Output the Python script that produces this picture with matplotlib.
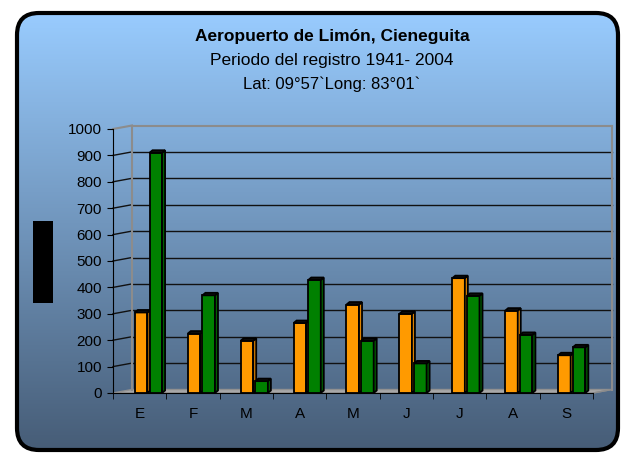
import numpy as np
import matplotlib.pyplot as plt
from matplotlib.patches import FancyBboxPatch, Polygon, Rectangle

plt.rcParams['font.family'] = ['Liberation Sans', 'DejaVu Sans']

meses = ['E', 'F', 'M', 'A', 'M', 'J', 'J', 'A', 'S']
serie_naranja = [305, 225, 198, 265, 335, 300, 435, 312, 143]
serie_verde = [910, 370, 45, 428, 198, 112, 368, 220, 173]
yticks = list(range(0, 1001, 100))

titulo = 'Aeropuerto de Limón, Cieneguita'
sub1 = 'Periodo del registro 1941- 2004'
sub2 = 'Lat: 09°57`Long: 83°01`'

W, H = 628, 453
fig = plt.figure(figsize=(W / 100, H / 100), dpi=100)

# fondo con degradado y borde redondeado
bg = fig.add_axes([0, 0, 1, 1])
bg.set_xlim(0, W)
bg.set_ylim(H, 0)
bg.axis('off')
t = np.linspace(0, 1, 256)[:, None, None]
top = np.array([153, 204, 255]) / 255
bot = np.array([70, 92, 118]) / 255
img = top + (bot - top) * t
im = bg.imshow(img, extent=[15, 620, 452, 11], aspect='auto')
box = FancyBboxPatch((17, 13), 601, 437, boxstyle='round,pad=0,rounding_size=22',
                     fc='none', ec='black', lw=3, zorder=3)
bg.add_patch(box)
im.set_clip_path(box)
bg.add_patch(Rectangle((33, 221), 20, 82, fc='black', zorder=4))

bg.text(332, 37, titulo, ha='center', va='center', fontsize=12.5, fontweight='bold')
bg.text(332, 61, sub1, ha='center', va='center', fontsize=12.5)
bg.text(332, 84, sub2, ha='center', va='center', fontsize=12)

# area del grafico (plano frontal)
ax = fig.add_axes([113 / W, (H - 393) / H, 480 / W, 264 / H])
ax.patch.set_visible(False)
ax.set_xlim(-0.5, 8.5)
ax.set_ylim(0, 1000)

dx, dy = 19 / 53.33, 3.5 / 0.264  # desplazamiento del plano de fondo
x0, x1 = -0.5, 8.5

# pared de fondo, piso
ax.add_patch(Polygon([(x0, 0), (x1, 0), (x1 + dx, dy), (x0 + dx, dy)],
                     closed=True, fc='#a8a8a8', ec='#909090', lw=1, clip_on=False, zorder=1))
for v in yticks[1:-1]:
    ax.plot([x0 + dx, x1 + dx], [v + dy, v + dy], color='#111111', lw=1, clip_on=False, zorder=1)
    ax.plot([x0, x0 + dx], [v, v + dy], color='#111111', lw=1, clip_on=False, zorder=1)
ax.plot([x0 + dx, x1 + dx], [1000 + dy, 1000 + dy], color='#8c8c8c', lw=1.5, clip_on=False, zorder=1)
ax.plot([x0, x0 + dx], [1000, 1000 + dy], color='#8c8c8c', lw=1.5, clip_on=False, zorder=1)
ax.plot([x0 + dx, x0 + dx], [dy, 1000 + dy], color='#8c8c8c', lw=1.5, clip_on=False, zorder=1)
ax.plot([x1 + dx, x1 + dx], [dy, 1000 + dy], color='#8c8c8c', lw=1.5, clip_on=False, zorder=1)
ax.plot([x1, x1 + dx], [0, dy], color='#8c8c8c', lw=1, clip_on=False, zorder=1)

# barras 3D
pos = np.arange(len(meses)) * 0.992 - 0.09
w = 0.235
sx, sy = 3 / 53.33, 2.5 / 0.264


def barras3d(xs, vals, front, side):
    ax.bar(xs, vals, width=w, align='edge', color=front, edgecolor='black', lw=1.3, zorder=3)
    for xl, v in zip(xs, vals):
        xr = xl + w
        ax.add_patch(Polygon([(xr, 0), (xr + sx, sy), (xr + sx, v + sy), (xr, v)],
                             closed=True, fc=side, ec='black', lw=1.3, zorder=3, clip_on=False))
        ax.add_patch(Polygon([(xl, v), (xr, v), (xr + sx, v + sy), (xl + sx, v + sy)],
                             closed=True, fc='#111111', ec='black', lw=1.3, zorder=3, clip_on=False))


barras3d(pos, serie_naranja, '#ff9a00', '#dc8200')
barras3d(pos + 0.275, serie_verde, '#008000', '#005f00')

# ejes
for s in ['top', 'right']:
    ax.spines[s].set_visible(False)
ax.spines['left'].set_color('black')
ax.spines['bottom'].set_color('black')
ax.set_yticks(yticks)
ax.set_yticklabels([str(v) for v in yticks], fontsize=11)
ax.tick_params(axis='y', length=4.5, pad=3.5, colors='black')
ax.set_xticks(range(len(meses)))
ax.set_xticklabels(meses, fontsize=11)
ax.tick_params(axis='x', which='major', length=0, pad=10)
ax.set_xticks(np.arange(len(meses) + 1) - 0.5, minor=True)
ax.tick_params(axis='x', which='minor', length=4, direction='out', color='black')

fig.savefig('out.png', dpi=100)
